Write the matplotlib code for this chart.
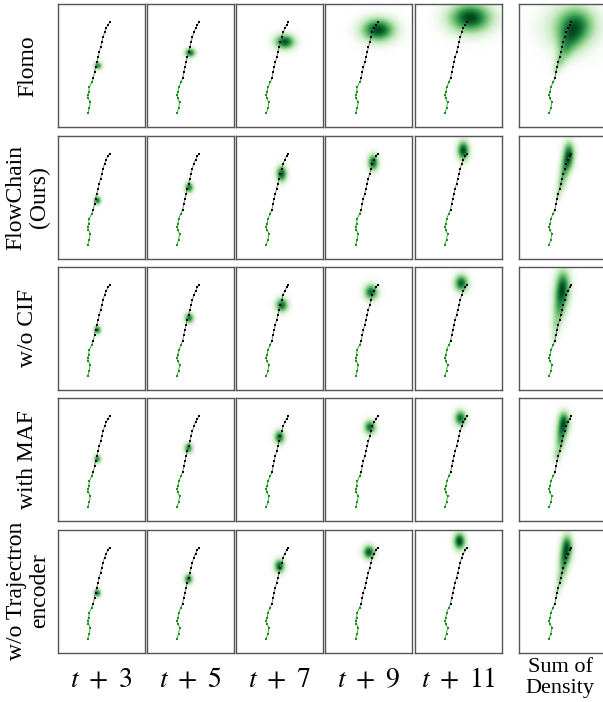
import matplotlib
matplotlib.use('Agg')
import matplotlib.pyplot as plt
import numpy as np
from matplotlib.colors import LinearSegmentedColormap

W, H = 603, 702

# trajectory in panel pixel units (x from left, y from bottom), same in every panel
past_x = [30.2, 31.8, 32.8, 30.8, 30.2, 31.2, 31.8, 34.2]
past_y = [14, 19, 25, 29, 32, 35, 40, 45]
fut_x = [35.8, 37.0, 38.0, 39.3, 40.5, 41.8, 43.0, 44.3, 45.6, 47.0, 48.7, 50.5, 52.2]
fut_y = [49, 55, 60, 65, 70, 75, 80, 85, 90, 95, 99, 102.5, 105]

methods = ['Flomo', 'FlowChain\n(Ours)', 'w/o CIF', 'with MAF', 'w/o Trajectron\nencoder']
steps = [r'$t\ +\ 3$', r'$t\ +\ 5$', r'$t\ +\ 7$', r'$t\ +\ 9$', r'$t\ +\ 11$']

# predicted density blobs per method and step: (cx, cy, sx, sy, peak)
blobs = {
    'Flomo': [(40.2, 61.3, 2.4, 2.4, 0.7), (43.2, 74.3, 3.2, 2.8, 0.85),
              (48.9, 85.3, 6.0, 4.5, 0.95), (52.6, 97.3, 10, 7, 1.0),
              (55.3, 109.3, 13, 9, 1.0)],
    'FlowChain\n(Ours)': [(39.5, 58.6, 2.2, 2.6, 0.8), (42.2, 71.6, 2.6, 3.2, 0.8),
                          (45.6, 85.3, 3.2, 4.8, 0.95), (47.6, 96.6, 3.2, 5.0, 0.9),
                          (48.3, 108.6, 3.6, 5.8, 1.0)],
    'w/o CIF': [(39.5, 60, 2.2, 2.6, 0.8), (42.2, 72, 2.8, 3.2, 0.8),
                (45.9, 85, 3.8, 4.3, 0.85), (45.6, 98, 4.2, 4.8, 0.85),
                (46.3, 107, 4.2, 5.2, 0.9)],
    'with MAF': [(39.5, 62, 2.2, 2.6, 0.7), (41.5, 73, 2.6, 3.2, 0.75),
                 (43.5, 84, 3.2, 4.2, 0.85), (44.5, 94, 3.6, 4.2, 0.85),
                 (45.5, 103, 3.6, 4.8, 0.85)],
    'w/o Trajectron\nencoder': [(39.5, 60, 2.2, 2.6, 0.8), (41.5, 74, 2.6, 3.2, 0.8),
                                (43.5, 87, 3.2, 4.2, 0.9), (43.5, 101, 3.6, 4.2, 0.95),
                                (44.5, 112, 3.6, 5.2, 1.0)],
}

# sum of density panels: components (cx, cy, sx, sy, weight)
sums = {
    'Flomo': [(57, 102, 11, 11, 1.0), (51, 100, 17, 14, 0.35), (51, 88, 8, 9, 0.6),
              (46, 77, 5, 7, 0.5), (41, 66, 3.5, 5, 0.4), (37, 57, 2.5, 4, 0.25)],
    'FlowChain\n(Ours)': [(50, 106, 3.5, 7, 1.0), (48, 96, 3.5, 6, 0.75), (45, 86, 3, 6, 0.55),
                          (42, 75, 2.5, 5, 0.4), (39, 64, 2, 4, 0.25)],
    'w/o CIF': [(44, 106, 4.5, 9, 1.0), (42, 93, 4.5, 8, 0.85), (40, 79, 4, 7, 0.55),
                (37, 65, 3, 6, 0.35), (35, 53, 2, 4, 0.2)],
    'with MAF': [(45, 100, 3.5, 6, 1.0), (43, 90, 3.5, 6, 0.75), (41, 79, 3, 6, 0.5),
                 (38, 66, 2.5, 5, 0.3)],
    'w/o Trajectron\nencoder': [(48, 107, 3.5, 7, 1.0), (46, 96, 3.5, 6, 0.75), (44, 85, 3, 6, 0.5),
                                (41, 73, 2.5, 5, 0.35), (38, 61, 2, 4, 0.2)],
}

pw, ph = 87.0, 123.0
col_left = [57.5, 146.8, 236.1, 325.4, 414.7, 519.0]
row_top = [4.3, 135.6, 266.9, 398.2, 529.5]

cmap = LinearSegmentedColormap.from_list('wg', ['#ffffff', '#c7e9c0', '#74c476', '#238b45', '#00441b'])

gx = np.linspace(0, pw, 175)
gy = np.linspace(0, ph, 247)
XX, YY = np.meshgrid(gx, gy)


def density(comps):
    d = np.zeros_like(XX)
    for cx, cy, sx, sy, w in comps:
        d += w * np.exp(-0.5 * (((XX - cx) / sx) ** 2 + ((YY - cy) / sy) ** 2))
    return d


plt.rcParams['mathtext.fontset'] = 'stix'
fig = plt.figure(figsize=(W / 100, H / 100), dpi=100)


def draw_panel(ax, d):
    ax.imshow(d ** 0.8, extent=(0, pw, 0, ph), origin='lower', cmap=cmap, vmin=0, vmax=1,
              interpolation='bilinear', aspect='auto')
    ax.plot(past_x + [fut_x[0]], past_y + [fut_y[0]], color='#22a022', lw=0.6)
    ax.plot(past_x, past_y, 's', color='#1a8f1a', ms=2.1, mew=0)
    ax.plot(fut_x, fut_y, color='#666666', lw=0.6)
    ax.plot(fut_x, fut_y, 's', color='black', ms=2.1, mew=0)
    ax.set_xlim(0, pw)
    ax.set_ylim(0, ph)
    ax.set_xticks([])
    ax.set_yticks([])
    for s in ax.spines.values():
        s.set_color('#555555')
        s.set_linewidth(1.0)


for r, m in enumerate(methods):
    for c in range(6):
        ax = fig.add_axes([col_left[c] / W, 1 - (row_top[r] + ph) / H, pw / W, ph / H])
        if c < 5:
            d = density([blobs[m][c]])
        else:
            d = density(sums[m])
            d = d / d.max()
        draw_panel(ax, d)
    yc = 1 - (row_top[r] + ph / 2) / H
    fig.text(28 / W, yc, m, rotation=90, ha='center', va='center',
             family='Liberation Serif', fontsize=17, linespacing=1.15)

for c, s in enumerate(steps):
    fig.text((col_left[c] + pw / 2) / W, 1 - 679 / H, s, ha='center', va='center', fontsize=20)

fig.text((col_left[5] + 41) / W, 1 - 678 / H, 'Sum of\nDensity', ha='center', va='center',
         family='Liberation Serif', fontsize=16, linespacing=1.15)

fig.savefig('out.png', dpi=100)
